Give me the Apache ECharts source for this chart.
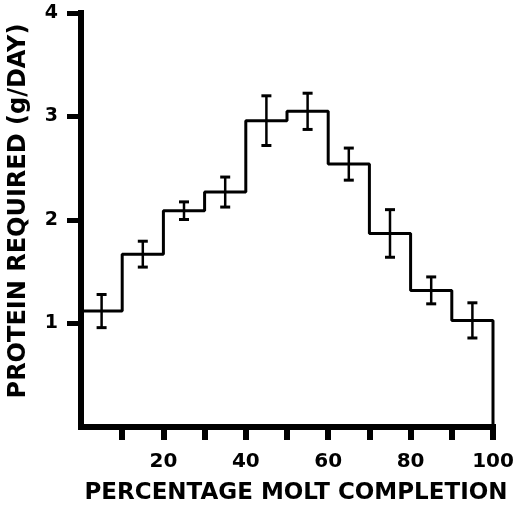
<!DOCTYPE html>
<html>
<head>
<meta charset="utf-8">
<script src="https://cdn.jsdelivr.net/npm/echarts@6/dist/echarts.min.js"></script>
<style>
html, body { margin: 0; padding: 0; background: #fff; }
#chart { width: 516px; height: 507px; }
</style>
</head>
<body>
<div id="chart"></div>
<script>
// bins of molt completion (%), 10 wide
var binStart = [0, 10, 20, 30, 40, 50, 60, 70, 80, 90];
var binWidth = 10;
// protein required (g/day) per bin, and its error (+/-)
var protein = [1.12, 1.67, 2.09, 2.27, 2.96, 3.05, 2.54, 1.87, 1.32, 1.03];
var proteinErr = [0.16, 0.125, 0.085, 0.145, 0.24, 0.175, 0.155, 0.23, 0.13, 0.17];
// ticks and tick labels shown
var xTicks = [10, 20, 30, 40, 50, 60, 70, 80, 90, 100];
var xLabels = [20, 40, 60, 80, 100];
var yLabels = [1, 2, 3, 4];

var FONT = 'DejaVu Sans';

// step outline of the histogram
var stepData = [];
for (var i = 0; i < binStart.length; i++) {
    stepData.push([binStart[i], protein[i]]);
    stepData.push([binStart[i] + binWidth, protein[i]]);
}
stepData.push([binStart[binStart.length - 1] + binWidth, 0]);

// error bars at bin centres
var errData = binStart.map(function (s, i) {
    return [s + binWidth / 2, protein[i] - proteinErr[i], protein[i] + proteinErr[i]];
});

var myChart = echarts.init(document.getElementById('chart'));

option = {
    backgroundColor: '#fff',
    animation: false,
    grid: { left: 81, right: 23, top: 13, bottom: 80, outerBoundsMode: 'none', containLabel: false },
    xAxis: {
        type: 'value',
        min: 0, max: 100, interval: 10,
        offset: 3,
        splitLine: { show: false },
        axisLine: { lineStyle: { color: '#000', width: 6, cap: 'square' } },
        axisTick: { customValues: xTicks, length: 13, lineStyle: { color: '#000', width: 6 } },
        axisLabel: {
            customValues: xLabels,
            margin: 22,
            color: '#000',
            fontFamily: FONT, fontWeight: 'bold', fontSize: 20
        },
        name: 'PERCENTAGE MOLT COMPLETION',
        nameLocation: 'middle',
        nameGap: 52,
        nameTextStyle: {
            color: '#000', fontFamily: FONT, fontWeight: 'bold', fontSize: 23,
            padding: [0, 0, 0, 18]
        }
    },
    yAxis: {
        type: 'value',
        min: 0, max: 4, interval: 1,
        offset: 2,
        splitLine: { show: false },
        axisLine: { show: true, lineStyle: { color: '#000', width: 6, cap: 'square' } },
        axisTick: { show: true, customValues: yLabels, length: 14, lineStyle: { color: '#000', width: 5 } },
        axisLabel: {
            customValues: yLabels,
            margin: 21,
            color: '#000',
            fontFamily: FONT, fontWeight: 'bold', fontSize: 19
        },
        name: 'PROTEIN REQUIRED (g/DAY)',
        nameLocation: 'middle',
        nameGap: 48,
        nameTextStyle: {
            color: '#000', fontFamily: FONT, fontWeight: 'bold', fontSize: 24,
            padding: [0, 0, 0, 18]
        }
    },
    series: [
        {
            type: 'line',
            data: stepData,
            symbol: 'none',
            lineStyle: { color: '#000', width: 3 },
            z: 3
        },
        {
            type: 'custom',
            data: errData,
            z: 4,
            renderItem: function (params, api) {
                var lo = api.coord([api.value(0), api.value(1)]);
                var hi = api.coord([api.value(0), api.value(2)]);
                var w = 5;
                var st = { stroke: '#000', lineWidth: 3 };
                return {
                    type: 'group',
                    children: [
                        { type: 'line', shape: { x1: lo[0], y1: lo[1], x2: hi[0], y2: hi[1] }, style: { stroke: '#000', lineWidth: 2.5 } },
                        { type: 'line', shape: { x1: lo[0] - w, y1: lo[1], x2: lo[0] + w, y2: lo[1] }, style: st },
                        { type: 'line', shape: { x1: hi[0] - w, y1: hi[1], x2: hi[0] + w, y2: hi[1] }, style: st }
                    ]
                };
            }
        }
    ]
};

myChart.setOption(option);
</script>
</body>
</html>
